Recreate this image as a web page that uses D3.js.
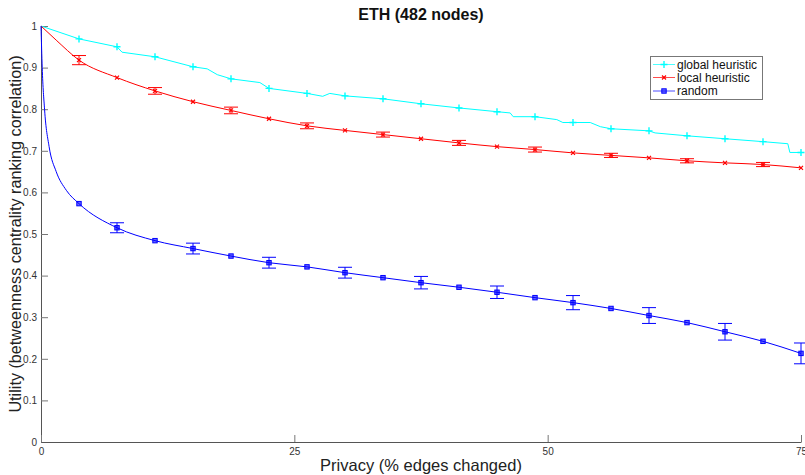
<!DOCTYPE html>
<html>
<head>
<meta charset="utf-8">
<script src="https://cdn.jsdelivr.net/npm/d3@7"></script>
<style>
  body { margin: 0; background: #fff; }
  svg { display: block; font-family: "Liberation Sans", Arial, sans-serif; }
</style>
</head>
<body>
<div id="chart"></div>
<script>
// Chart values
const titleText = "ETH (482 nodes)";
const xTicks = [0, 25, 50, 75];
const yTicks = [0, 0.1, 0.2, 0.3, 0.4, 0.5, 0.6, 0.7, 0.8, 0.9, 1];
const seriesNames = ["global heuristic", "local heuristic", "random"];

// marker positions (% edges changed)
const markerX = [0, 3.75, 7.5, 11.25, 15, 18.75, 22.5, 26.25, 30, 33.75, 37.5,
  41.25, 45, 48.75, 52.5, 56.25, 60, 63.75, 67.5, 71.25, 75];

const globalMarkers = [1.0, 0.969, 0.950, 0.926, 0.902, 0.873, 0.850, 0.838, 0.832, 0.825, 0.813,
  0.803, 0.794, 0.782, 0.768, 0.753, 0.748, 0.736, 0.729, 0.722, 0.696];
const localMarkers = [1.0, 0.918, 0.876, 0.844, 0.818, 0.797, 0.777, 0.760, 0.749, 0.739, 0.729,
  0.719, 0.710, 0.703, 0.695, 0.689, 0.683, 0.676, 0.671, 0.667, 0.659];
const randomMarkers = [1.0, 0.573, 0.515, 0.484, 0.465, 0.447, 0.431, 0.421, 0.407, 0.395, 0.383,
  0.372, 0.360, 0.347, 0.335, 0.321, 0.304, 0.287, 0.265, 0.242, 0.213];

// error bar half heights (0 = no bar drawn)
const localErr = [0, 0.011, 0, 0.008, 0, 0.008, 0, 0.007, 0, 0.006, 0,
  0.006, 0, 0.006, 0, 0.005, 0, 0.005, 0, 0.005, 0];
const randomErr = [0, 0, 0.012, 0, 0.013, 0, 0.013, 0, 0.013, 0, 0.015,
  0, 0.015, 0, 0.017, 0, 0.019, 0, 0.020, 0, 0.025];

// the global heuristic line is stepped between markers
const globalLine = [[0, 1.0], [3.75, 0.969], [7.5, 0.950], [8.0, 0.937], [11.25, 0.926], [15, 0.902],
  [16.4, 0.897], [17.4, 0.883], [18.75, 0.873], [21.6, 0.864], [22.5, 0.850], [26.25, 0.838],
  [27.8, 0.831], [28.5, 0.838], [30, 0.832], [33.75, 0.825], [37.5, 0.813], [41.25, 0.803],
  [45, 0.794], [46.3, 0.791], [46.6, 0.782], [48.75, 0.782], [50.9, 0.775], [51.5, 0.768],
  [52.5, 0.768], [54.2, 0.768], [55.2, 0.758], [56.25, 0.753], [60, 0.748], [60.6, 0.743],
  [63.75, 0.736], [67.5, 0.729], [71.25, 0.722], [73.7, 0.717], [73.9, 0.696], [75, 0.696]];
// extra points where the smooth curves start
const localStart = [[0, 1.0], [1.5, 0.966]];
const randomStart = [[0, 1.0], [0.12, 0.90], [0.35, 0.80], [0.8, 0.71], [1.5, 0.65], [2.5, 0.605]];

const colors = ["#00ffff", "#ff0000", "#0000ff"];

const width = 805, height = 475;
const margin = { top: 26, right: 4, bottom: 33, left: 41 };
const innerWidth = width - margin.left - margin.right;
const innerHeight = height - margin.top - margin.bottom;

const svg = d3.select("#chart").append("svg")
  .attr("width", width)
  .attr("height", height);

const g = svg.append("g")
  .attr("transform", `translate(${margin.left},${margin.top})`);

const x = d3.scaleLinear().domain([0, 75]).range([0, innerWidth]);
const y = d3.scaleLinear().domain([0, 1]).range([innerHeight, 0]);

// Axes (MATLAB style: ticks inside, no box)
const yAxis = g.append("g")
  .call(d3.axisLeft(y).tickValues(yTicks).tickFormat(d3.format("~g"))
    .tickSizeInner(-7).tickSizeOuter(0).tickPadding(4));
const xAxis = g.append("g")
  .attr("transform", `translate(0,${innerHeight})`)
  .call(d3.axisBottom(x).tickValues(xTicks).tickFormat(d3.format("d"))
    .tickSizeInner(-7).tickSizeOuter(0).tickPadding(6));

[xAxis, yAxis].forEach(a => {
  a.select(".domain").attr("stroke", "#555");
  a.selectAll(".tick line").attr("stroke", "#777");
  a.selectAll(".tick text").attr("fill", "#333")
    .attr("font-size", 10)
    .attr("font-family", "Liberation Sans, Arial, sans-serif");
});

const line = d3.line().x(d => x(d[0])).y(d => y(d[1]));
const smooth = d3.line().x(d => x(d[0])).y(d => y(d[1])).curve(d3.curveMonotoneX);

const localLine = localStart.concat(markerX.slice(1).map((v, i) => [v, localMarkers[i + 1]]));
const randomLine = randomStart.concat(markerX.slice(1).map((v, i) => [v, randomMarkers[i + 1]]));

g.append("path").attr("d", line(globalLine))
  .attr("fill", "none").attr("stroke", colors[0]).attr("stroke-width", 1);
g.append("path").attr("d", smooth(localLine))
  .attr("fill", "none").attr("stroke", colors[1]).attr("stroke-width", 1);
g.append("path").attr("d", smooth(randomLine))
  .attr("fill", "none").attr("stroke", colors[2]).attr("stroke-width", 1);

// Error bars
function errorBars(vals, errs, color) {
  const pts = markerX.map((v, i) => ({ x: v, y: vals[i], e: errs[i] })).filter(d => d.e > 0);
  const eb = g.append("g").attr("stroke", color).attr("stroke-width", 1).attr("fill", "none");
  pts.forEach(d => {
    const cx = x(d.x), top = y(d.y + d.e), bot = y(d.y - d.e);
    eb.append("line").attr("x1", cx).attr("x2", cx).attr("y1", top).attr("y2", bot);
    eb.append("line").attr("x1", cx - 7).attr("x2", cx + 7).attr("y1", top).attr("y2", top);
    eb.append("line").attr("x1", cx - 7).attr("x2", cx + 7).attr("y1", bot).attr("y2", bot);
  });
}
errorBars(localMarkers, localErr, colors[1]);
errorBars(randomMarkers, randomErr, colors[2]);

// Markers
function plusMarker(sel, cx, cy, color) {
  sel.append("path").attr("d", `M${cx - 3.5},${cy}H${cx + 3.5}M${cx},${cy - 3.5}V${cy + 3.5}`)
    .attr("stroke", color).attr("stroke-width", 1.4).attr("fill", "none");
}
function crossMarker(sel, cx, cy, color) {
  sel.append("path").attr("d", `M${cx - 2},${cy - 2}L${cx + 2},${cy + 2}M${cx - 2},${cy + 2}L${cx + 2},${cy - 2}`)
    .attr("stroke", color).attr("stroke-width", 1.2).attr("fill", "none");
}
function squareMarker(sel, cx, cy, color) {
  sel.append("rect").attr("x", cx - 2.2).attr("y", cy - 2.2).attr("width", 4.4).attr("height", 4.4)
    .attr("fill", color).attr("fill-opacity", 0.6).attr("stroke", color).attr("stroke-width", 1);
}
const markersG = g.append("g");
markerX.forEach((v, i) => {
  if (i === 0) return;
  plusMarker(markersG, x(v), y(globalMarkers[i]), colors[0]);
  crossMarker(markersG, x(v), y(localMarkers[i]), colors[1]);
  squareMarker(markersG, x(v), y(randomMarkers[i]), colors[2]);
});

// Title and axis labels
svg.append("text")
  .attr("x", margin.left + innerWidth / 2)
  .attr("y", 20)
  .attr("text-anchor", "middle")
  .attr("font-size", 16)
  .attr("font-weight", "bold")
  .attr("fill", "#111")
  .text(titleText);

svg.append("text")
  .attr("x", margin.left + innerWidth / 2)
  .attr("y", 471)
  .attr("text-anchor", "middle")
  .attr("font-size", 16.5)
  .attr("fill", "#222")
  .text("Privacy (% edges changed)");

svg.append("text")
  .attr("transform", `translate(21,${margin.top + innerHeight / 2}) rotate(-90)`)
  .attr("text-anchor", "middle")
  .attr("font-size", 16.2)
  .attr("fill", "#222")
  .text("Utility (betweenness centrality ranking correlation)");

// Legend
const legend = svg.append("g");
legend.append("rect")
  .attr("x", 650.5).attr("y", 56.5).attr("width", 112).attr("height", 43)
  .attr("fill", "#fff").attr("stroke", "#777").attr("stroke-width", 1);
const markerFns = [plusMarker, crossMarker, squareMarker];
const rowY = [64.5, 77.5, 91];
seriesNames.forEach((name, i) => {
  legend.append("line")
    .attr("x1", 653).attr("x2", 675).attr("y1", rowY[i]).attr("y2", rowY[i])
    .attr("stroke", colors[i]).attr("stroke-width", 1).attr("stroke-opacity", 0.7);
  markerFns[i](legend, 664, rowY[i], colors[i]);
  legend.append("text")
    .attr("x", 677).attr("y", rowY[i] + 4.3)
    .attr("font-size", 12)
    .attr("fill", "#111")
    .text(name);
});
</script>
</body>
</html>
